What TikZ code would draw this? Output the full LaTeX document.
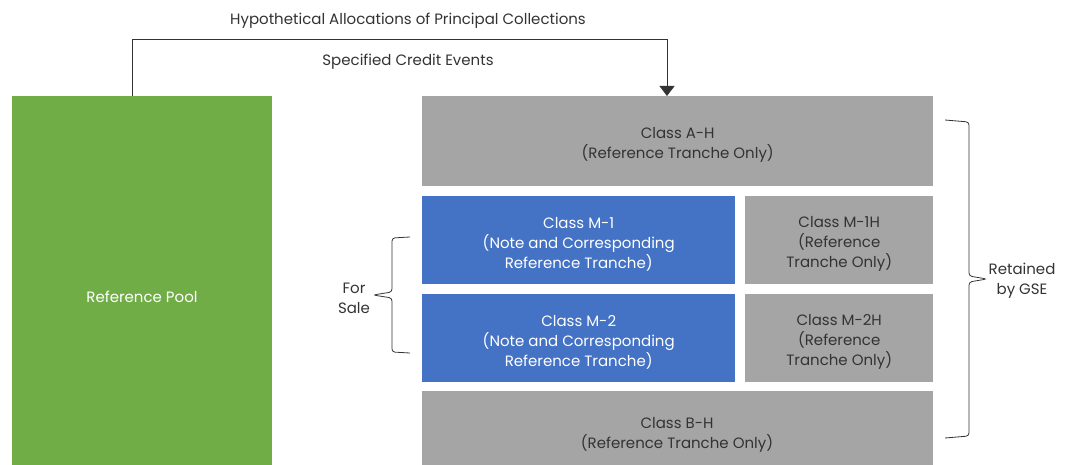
\documentclass[tikz,border=0pt]{standalone}
\usepackage{fontspec}
\setmainfont{Poppins}
\definecolor{poolgreen}{RGB}{112,173,71}
\definecolor{noteblue}{RGB}{68,114,196}
\definecolor{tranchegray}{RGB}{165,165,165}
\definecolor{labelgray}{RGB}{51,51,51}
\usetikzlibrary{positioning,calc,arrows.meta}

\begin{document}
\begin{tikzpicture}[x=1pt, y=-1pt,
    every node/.style={font=\fontsize{15}{20}\selectfont, align=center, text=labelgray},
    block/.style={inner sep=0pt, anchor=north west},
    grayblock/.style={block, fill=tranchegray},
    blueblock/.style={block, fill=noteblue},
    bracket/.style={draw=labelgray, line width=0.8pt, rounded corners=3pt}]
    \useasboundingbox (0,0) rectangle (1070,465);
    % pool and tranches
    \node[block, fill=poolgreen, minimum width=260pt, minimum height=369pt] (pool) at (12,96) {};
    \node[text=white] (poollabel) at (142,297) {Reference Pool};
    \node[grayblock, minimum width=511pt, minimum height=90pt] (ah) at (422,96) {};
    \node (ahlabel) at ($(ah.center)+(0,4)$) {Class A-H\\(Reference Tranche Only)};
    \foreach \name/\y/\num in {m1/196/1, m2/294/2} {
        \node[blueblock, minimum width=313pt, minimum height=88pt] (\name) at (422,\y) {};
        \node[text=white] (\name label) at ($(\name.center)+(0,4)$)
            {Class M-\num\\(Note and Corresponding\\Reference Tranche)};
        \node[grayblock, minimum width=188pt, minimum height=88pt] (\name h) at (745,\y) {};
        \node (\name hlabel) at ($(\name h.center)+(0,4)$)
            {Class M-\num H\\(Reference\\Tranche Only)};
    }
    \node[grayblock, minimum width=511pt, minimum height=74pt] (bh) at (422,391) {};
    \node (bhlabel) at (677,435) {Class B-H\\(Reference Tranche Only)};
    % allocation arrow
    \coordinate (start) at ($(pool.north west)+(120,0)$);
    \coordinate (target) at ($(ah.north west)+(245,0)$);
    \draw[labelgray, line width=0.8pt, -{Triangle[length=10pt,width=15pt]}]
        (start) -- ++(0,-57) -| (target);
    \node (hypo) at (408,21) {Hypothetical Allocations of Principal Collections};
    \node (events) at (408,62) {Specified Credit Events};
    % braces
    \draw[bracket] (410,237) -- (392,238) -- (392,292) -- (373,295) -- (392,298) -- (392,352) -- (410,353);
    \node (forsale) at (354,298) {For\\Sale};
    \draw[bracket] (945,120) -- (969,122) -- (969,276) -- (987,279) -- (969,282) -- (969,436) -- (945,438);
    \node (retained) at (1022,281) {Retained\\by GSE};
\end{tikzpicture}
\end{document}
